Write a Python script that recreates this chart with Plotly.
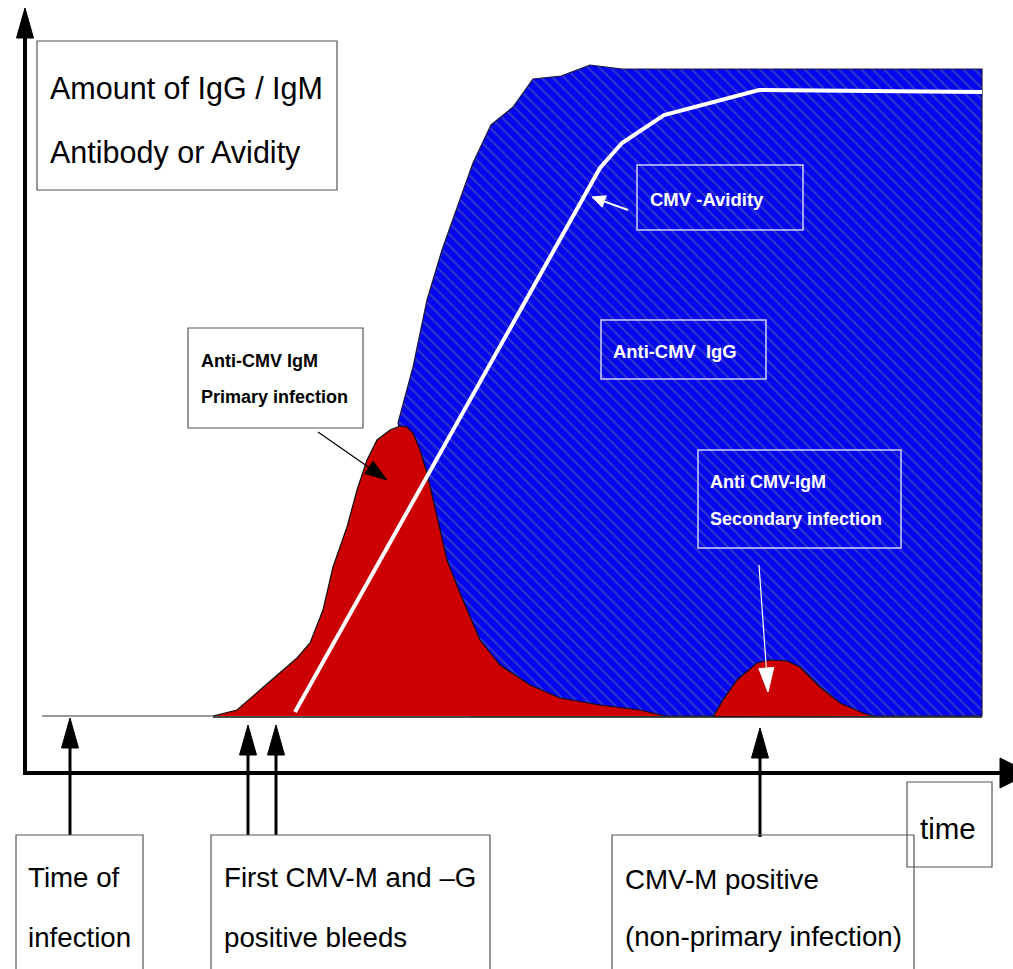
import math
import plotly.graph_objects as go

# ---- data (pixel space: x right, y down) ----
igg_x = [398, 413, 427, 442, 458, 473, 491, 513, 533, 561, 590, 612, 622, 982, 982, 470, 398]
igg_y = [423, 367, 300, 250, 205, 163, 125, 107, 79, 76, 65, 68, 69, 69, 716, 716, 423]

igm1_x = [213, 237, 260, 280, 297, 310, 323, 333, 347, 357, 367, 377, 390, 400, 407, 413,
          420, 427, 437, 447, 460, 473, 480, 500, 530, 560, 600, 640, 665]
igm1_y = [716, 710, 690, 673, 658, 643, 610, 567, 527, 490, 460, 440, 430, 426, 427, 433,
          450, 473, 517, 560, 593, 623, 640, 665, 685, 698, 705, 710, 716]

igm2_x = [713, 723, 737, 757, 770, 787, 800, 820, 840, 863, 873]
igm2_y = [717, 700, 680, 663, 660, 661, 667, 687, 703, 713, 716]

avidity_x = [295, 600, 622, 664, 759, 880, 982]
avidity_y = [712, 168, 143, 115, 90, 91, 92]

FONT = "Liberation Sans, Arial, sans-serif"
W, H = 1013, 969

fig = go.Figure()

fig.add_trace(go.Scatter(
    x=igg_x, y=igg_y, mode="lines", fill="toself",
    line=dict(color="#1a1a3a", width=1.2),
    fillcolor="#0505ee",
    fillpattern=dict(shape="\\", bgcolor="#0505ee", fgcolor="#3038c8",
                     size=8, solidity=0.25, fillmode="replace"),
    hoverinfo="skip", showlegend=False))

for xs, ys in [(igm1_x, igm1_y), (igm2_x, igm2_y)]:
    fig.add_trace(go.Scatter(
        x=xs, y=ys, mode="lines", fill="toself",
        line=dict(color="#111111", width=1.2), fillcolor="#cc0000",
        hoverinfo="skip", showlegend=False))

fig.add_trace(go.Scatter(
    x=avidity_x, y=avidity_y, mode="lines",
    line=dict(color="white", width=4), hoverinfo="skip", showlegend=False))

shapes = []

# baselines
shapes.append(dict(type="line", x0=42, y0=716, x1=213, y1=716,
                   line=dict(color="#777777", width=1.5)))
shapes.append(dict(type="line", x0=213, y0=717, x1=982, y1=717,
                   line=dict(color="#111111", width=1.5)))


def arrow(x0, y0, x1, y1, color, width, hl, hw):
    dx, dy = x1 - x0, y1 - y0
    L = math.hypot(dx, dy)
    ux, uy = dx / L, dy / L
    bx, by = x1 - ux * hl, y1 - uy * hl
    px, py = -uy, ux
    shapes.append(dict(type="line", x0=x0, y0=y0, x1=bx + ux, y1=by + uy,
                       line=dict(color=color, width=width)))
    p = "M {:.1f} {:.1f} L {:.1f} {:.1f} L {:.1f} {:.1f} Z".format(
        x1, y1, bx + px * hw / 2, by + py * hw / 2, bx - px * hw / 2, by - py * hw / 2)
    shapes.append(dict(type="path", path=p, fillcolor=color,
                       line=dict(color=color, width=1)))


# axes
arrow(25, 775, 25, 8, "black", 4, 30, 17)
arrow(23, 773, 1030, 773, "black", 4, 30, 30)

# timeline arrows
arrow(70, 835, 70, 718, "black", 3, 30, 17)
arrow(248, 835, 248, 725, "black", 3, 30, 17)
arrow(276, 835, 276, 725, "black", 3, 30, 17)
arrow(760, 837, 760, 728, "black", 3, 30, 17)

# callout arrows
arrow(318, 432, 387, 480, "black", 1.2, 22, 15)
arrow(628, 210, 592, 197, "white", 2, 13, 12)
arrow(759, 565, 768, 692, "white", 1.2, 24, 15)


def box(x0, y0, x1, y1, color="#555555", width=1.2):
    shapes.append(dict(type="rect", x0=x0, y0=y0, x1=x1, y1=y1,
                       line=dict(color=color, width=width)))


box(37, 41, 337, 190)
box(188, 328, 363, 428)
box(601, 320, 766, 379, color="#d0d0ff", width=1.5)
box(637, 165, 803, 230, color="#d0d0ff", width=1.5)
box(698, 450, 901, 548, color="#d0d0ff", width=1.5)
box(16, 835, 143, 980)
box(211, 835, 490, 980)
box(612, 835, 914, 980)
box(907, 782, 992, 867)

annotations = []


def text(x, y, s, size, color="black", bold=False):
    annotations.append(dict(
        x=x, y=y, xref="x", yref="y", text=("<b>%s</b>" % s) if bold else s,
        showarrow=False, xanchor="left", yanchor="middle",
        font=dict(family=FONT, size=size, color=color)))


text(48, 88, "Amount of IgG / IgM", 30.5)
text(48, 152, "Antibody or Avidity", 30.5)
text(199, 361, "Anti-CMV IgM", 18, bold=True)
text(199, 397, "Primary infection", 18, bold=True)
text(611, 351, "Anti-CMV  IgG", 18.4, color="white", bold=True)
text(648, 199, "CMV -Avidity", 18.5, color="white", bold=True)
text(708, 482, "Anti CMV-IgM", 18, color="white", bold=True)
text(708, 519, "Secondary infection", 18, color="white", bold=True)
text(26, 877, "Time of", 27.7)
text(26, 937, "infection", 27.7)
text(222, 877, "First CMV-M and \u2013G", 27.7)
text(222, 937, "positive bleeds", 27.7)
text(623, 879, "CMV-M positive", 27.7)
text(623, 936, "(non-primary infection)", 27.7)
text(918, 828, "time", 29.5)

fig.update_layout(
    width=W, height=H, margin=dict(l=0, r=0, t=0, b=0),
    paper_bgcolor="white", plot_bgcolor="white",
    xaxis=dict(range=[0, W], visible=False, fixedrange=True),
    yaxis=dict(range=[H, 0], visible=False, fixedrange=True),
    shapes=shapes, annotations=annotations, showlegend=False)

fig.write_html("out.html", config={"displayModeBar": False},
               post_script="document.body.style.margin='0';")
